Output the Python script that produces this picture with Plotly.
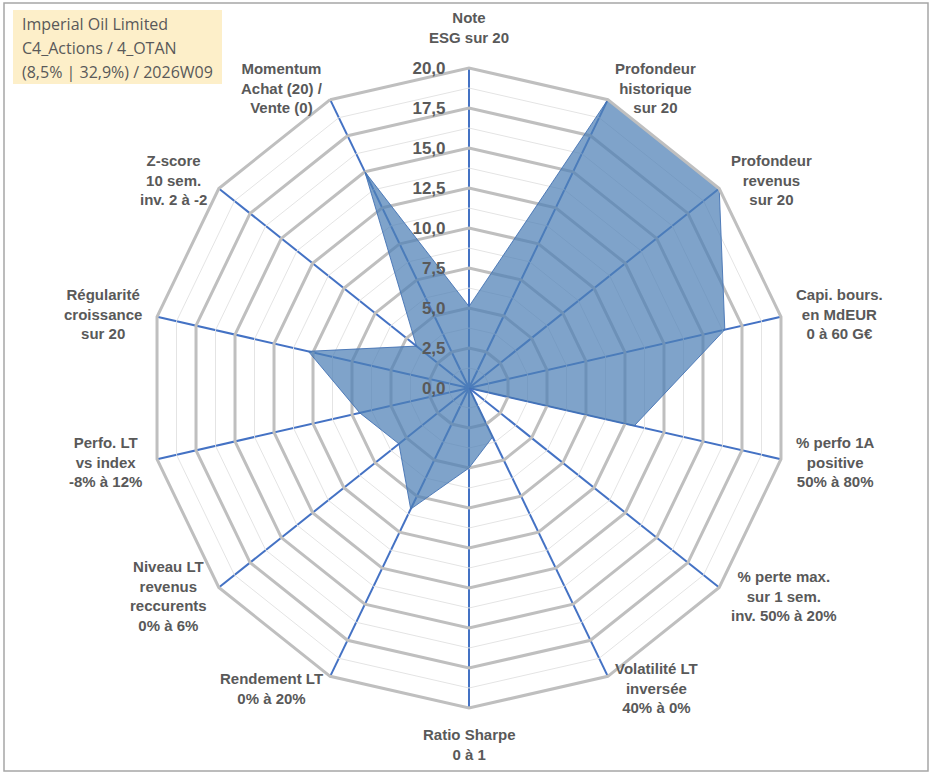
import math
import plotly.graph_objects as go

# axes of the radar, clockwise from the top
axes_labels = [
    "Note<br>ESG sur 20",
    "Profondeur<br>historique<br>sur 20",
    "Profondeur<br>revenus<br>sur 20",
    "Capi. bours.<br>en MdEUR<br>0 à 60 G€",
    "% perfo 1A<br>positive<br>50% à 80%",
    "% perte max.<br>sur 1 sem.<br>inv. 50% à 20%",
    "Volatilité LT<br>inversée<br>40% à 0%",
    "Ratio Sharpe<br>0 à 1",
    "Rendement LT<br>0% à 20%",
    "Niveau LT<br>revenus<br>reccurents<br>0% à 6%",
    "Perfo. LT<br>vs index<br>-8% à 12%",
    "Régularité<br>croissance<br>sur 20",
    "Z-score<br>10 sem.<br>inv. 2 à -2",
    "Momentum<br>Achat (20) /<br>Vente (0)",
]
scores = [5.1, 20.0, 20.0, 16.4, 10.6, 0.0, 3.4, 5.0, 8.4, 5.6, 7.0, 10.3, 4.2, 15.0]

major_ticks = [0, 2.5, 5, 7.5, 10, 12.5, 15, 17.5, 20]
minor_rings = [1.25, 3.75, 6.25, 8.75, 11.25, 13.75, 16.25, 18.75]

title_lines = ["Imperial Oil Limited", "C4_Actions / 4_OTAN", "(8,5% | 32,9%) / 2026W09"]

W, H = 933, 776
cx, cy, rad = 469, 388, 320

fig = go.Figure()

# faint intermediate rings
for r in minor_rings:
    fig.add_trace(go.Scatterpolar(
        r=[r] * (len(axes_labels) + 1),
        theta=axes_labels + [axes_labels[0]],
        mode="lines",
        line=dict(color="#E4E4E4", width=1),
        hoverinfo="skip",
        showlegend=False,
    ))

fig.add_trace(go.Scatterpolar(
    r=scores + [scores[0]],
    theta=axes_labels + [axes_labels[0]],
    mode="lines",
    fill="toself",
    fillcolor="rgba(78,128,182,0.72)",
    line=dict(color="rgba(68,114,180,0.9)", width=1),
    showlegend=False,
))

# category labels next to each corner of the web, Excel style
annotations = []
n = len(axes_labels)
lab_font = dict(family="Liberation Sans, Arial", size=15, color="#595959", weight="bold")
for i, lab in enumerate(axes_labels):
    a = 2 * math.pi * i / n
    s, c = math.sin(a), math.cos(a)
    if abs(s) < 0.1:
        gap = 20 if c > 0 else 16
        xa, ya = "center", ("bottom" if c > 0 else "top")
    else:
        gap = 13
        xa, ya = ("left" if s > 0 else "right"), "middle"
    px_x = cx + (rad + gap) * s
    px_y = cy - (rad + gap) * c
    annotations.append(dict(
        text=lab, xref="paper", yref="paper",
        x=px_x / W, y=1 - px_y / H,
        xanchor=xa, yanchor=ya, align="center",
        showarrow=False, font=lab_font,
    ))

# title box
for k, line in enumerate(title_lines):
    annotations.append(dict(
        text=line, xref="paper", yref="paper",
        x=20 / W, y=1 - (24 + 24 * k) / H,
        xanchor="left", yanchor="middle", align="left",
        showarrow=False,
        font=dict(family="Open Sans, Lato", size=16, color="#595959"),
    ))

fig.update_layout(
    width=W, height=H,
    margin=dict(l=0, r=0, t=0, b=0),
    paper_bgcolor="white",
    separators=", ",
    showlegend=False,
    polar=dict(
        domain=dict(x=[(cx - rad) / W, (cx + rad) / W],
                    y=[(H - cy - rad) / H, (H - cy + rad) / H]),
        bgcolor="white",
        gridshape="linear",
        angularaxis=dict(
            direction="clockwise",
            rotation=90,
            showline=True,
            linecolor="#BFBFBF",
            linewidth=3,
            gridcolor="#4472C4",
            gridwidth=1.5,
            ticks="",
            showticklabels=False,
        ),
        radialaxis=dict(
            range=[0, 20],
            angle=90,
            tickangle=90,
            side="counterclockwise",
            tickvals=major_ticks,
            tickformat=".1f",
            showline=False,
            ticks="outside",
            ticklen=17,
            tickcolor="rgba(0,0,0,0)",
            gridcolor="#BFBFBF",
            gridwidth=3,
            tickfont=dict(family="Liberation Sans, Arial", size=17, color="#595959", weight="bold"),
        ),
    ),
    annotations=annotations,
    shapes=[
        dict(type="rect", xref="paper", yref="paper",
             x0=4 / W, x1=928 / W, y0=1 - 771 / H, y1=1 - 3 / H,
             line=dict(color="#A6A6A6", width=1.5), layer="below"),
        dict(type="rect", xref="paper", yref="paper",
             x0=13 / W, x1=222 / W, y0=1 - 84 / H, y1=1 - 10 / H,
             fillcolor="#FDEFC9", line=dict(width=0), layer="below"),
    ],
)

fig.write_html("out.html", config={"displayModeBar": False},
               post_script="document.body.style.margin='0';")
